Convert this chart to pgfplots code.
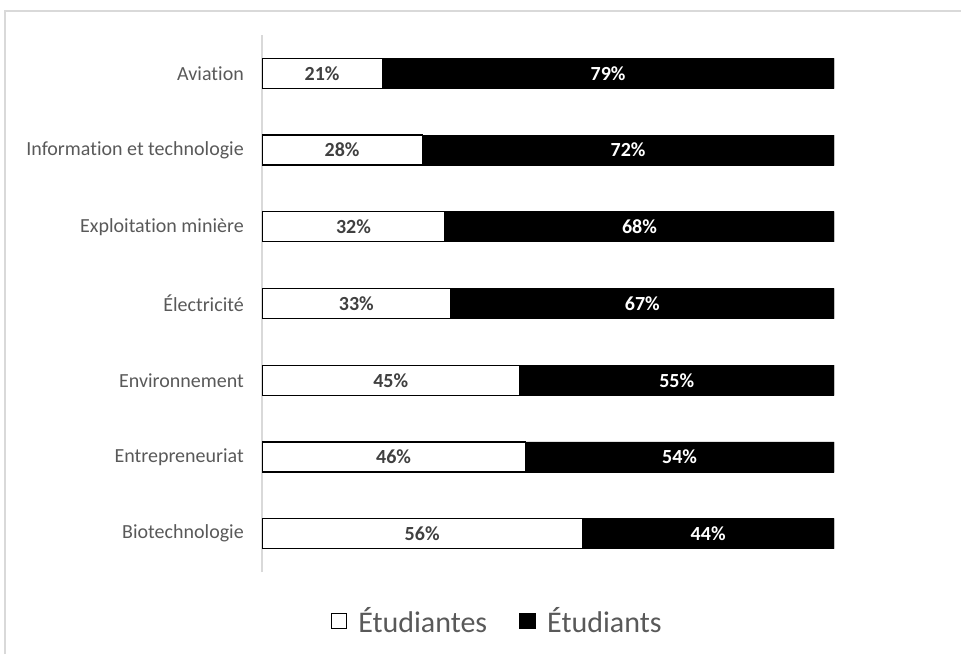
\documentclass[border=0pt]{standalone}
\usepackage{pgfplots}
\pgfplotsset{compat=1.18}
\usepackage{pgfplotstable}
\usepackage{fontspec}
\setmainfont[Ligatures={NoCommon,NoContextual}]{Carlito}
\definecolor{txtgray}{HTML}{595959}
\definecolor{lblgray}{HTML}{404040}
\definecolor{brd}{HTML}{D9D9D9}
\pgfplotstableread{
idx f m
0 56 44
1 46 54
2 45 55
3 33 67
4 32 68
5 28 72
6 21 79
}\data
\begin{document}
\begin{tikzpicture}
\path[use as bounding box] (0pt,0pt) rectangle (961pt,654pt);
\draw[brd, line width=1.3pt] (5pt,0pt) -- (5pt,643pt) -- (961pt,643pt);
\begin{axis}[
  at={(262pt,82pt)}, anchor=south west,
  scale only axis, width=572pt, height=537pt,
  xbar stacked, bar width=30pt,
  xmin=0, xmax=100, ymin=-0.5, ymax=6.5,
  axis lines*=left,
  x axis line style={draw=none},
  y axis line style={draw=brd, line width=1.2pt},
  xtick=\empty,
  ytick={0,...,6},
  yticklabels={Biotechnologie,Entrepreneuriat,Environnement,Électricité,Exploitation minière,Information et technologie,Aviation},
  major tick length=0pt,
  ytick style={draw=none},
  yticklabel style={font=\fontsize{20}{24}\selectfont, text=txtgray, inner sep=0pt, xshift=-18pt},
  /pgf/number format/assume math mode=true,
  legend columns=2,
  legend style={at={(0.409,-0.0912)}, anchor=center, draw=none, fill=none,
    font=\fontsize{30}{36}\selectfont, text=txtgray,
    nodes={inner xsep=0pt},
    /tikz/every even column/.append style={column sep=32pt}},
  legend image code/.code={\draw[#1, line width=1.5pt] (0pt,-7.5pt) rectangle (15pt,7.5pt); \path[draw=none, fill=none] (-1pt,0pt) -- (27pt,0pt);},
]
\addplot[fill=white, draw=black, line width=1.2pt] table[x=f, y=idx] {\data};
\addlegendentry{Étudiantes}
\addplot[fill=black, draw=black, line width=0.8pt] table[x=m, y=idx] {\data};
\addlegendentry{Étudiants}
\end{axis}
\begin{axis}[
  at={(262pt,82pt)}, anchor=south west,
  scale only axis, width=572pt, height=537pt,
  xmin=0, xmax=100, ymin=-0.5, ymax=6.5,
  axis lines=none,
  /pgf/number format/assume math mode=true,
]
\addplot[only marks, mark=*, mark size=0pt, mark options={draw=none, fill=none},
  nodes near coords={\pgfmathprintnumber[fixed,precision=0]{\pgfplotspointmeta}\%},
  point meta=explicit,
  every node near coord/.style={anchor=center, inner sep=0pt, font=\bfseries\fontsize{20}{24}\selectfont, text=lblgray}
] table[x expr=\thisrow{f}/2, y=idx, meta=f] {\data};
\addplot[only marks, mark=*, mark size=0pt, mark options={draw=none, fill=none},
  nodes near coords={\pgfmathprintnumber[fixed,precision=0]{\pgfplotspointmeta}\%},
  point meta=explicit,
  every node near coord/.style={anchor=center, inner sep=0pt, font=\bfseries\fontsize{20}{24}\selectfont, text=white}
] table[x expr=\thisrow{f}+\thisrow{m}/2, y=idx, meta=m] {\data};
\end{axis}
\end{tikzpicture}
\end{document}
